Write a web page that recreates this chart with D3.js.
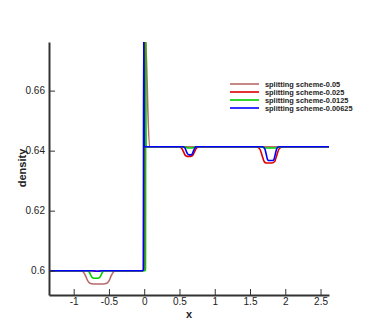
<!DOCTYPE html>
<html>
<head>
<meta charset="utf-8">
<script src="https://cdn.jsdelivr.net/npm/d3@7"></script>
<style>
  body { margin: 0; background: #fff; }
  text { font-family: "Liberation Sans", Arial, sans-serif; fill: #222; }
</style>
</head>
<body>
<div id="chart"></div>
<script>
// series names and colours
const seriesNames = ["splitting scheme-0.05", "splitting scheme-0.025", "splitting scheme-0.0125", "splitting scheme-0.00625"];
const seriesColors = ["#b86a6a", "#dd0000", "#00cc00", "#0000ff"];

// [x, density]
const scheme005 = [[-1.35, 0.6], [-0.90, 0.6], [-0.86, 0.5995], [-0.83, 0.5982], [-0.80, 0.5966], [-0.77, 0.5958], [-0.72, 0.59556],
  [-0.58, 0.59556], [-0.53, 0.5958], [-0.50, 0.5966], [-0.47, 0.5982], [-0.44, 0.5995], [-0.40, 0.6],
  [-0.02, 0.6], [0.0, 0.6005], [0.012, 0.68], [0.075, 0.6413], [2.62, 0.6413]];
const scheme0025 = [[-1.35, 0.6], [-0.75, 0.6], [-0.68, 0.5998], [-0.6, 0.6], [-0.03, 0.6], [-0.01, 0.6003], [0.0, 0.68], [0.02, 0.6413],
  [0.49, 0.6413], [0.53, 0.6408], [0.56, 0.6395], [0.58, 0.6385], [0.61, 0.6381], [0.66, 0.6381], [0.69, 0.6385], [0.71, 0.6395], [0.74, 0.6408], [0.78, 0.6413],
  [1.59, 0.6413], [1.64, 0.6405], [1.67, 0.6385], [1.70, 0.6364], [1.73, 0.6359], [1.81, 0.6359], [1.85, 0.6364], [1.88, 0.6385], [1.91, 0.6405], [1.96, 0.6413],
  [2.62, 0.6413]];
const scheme00125 = [[-1.35, 0.6], [-0.81, 0.6], [-0.78, 0.5996], [-0.76, 0.5986], [-0.74, 0.5978], [-0.71, 0.5975], [-0.66, 0.5975],
  [-0.63, 0.5978], [-0.61, 0.5986], [-0.59, 0.5996], [-0.56, 0.6],
  [0.012, 0.6], [0.018, 0.6005], [0.022, 0.68], [0.026, 0.6413],
  [0.55, 0.6413], [0.62, 0.6409], [0.68, 0.6409], [0.74, 0.6413],
  [1.64, 0.6413], [1.72, 0.6409], [1.86, 0.6409], [1.95, 0.6413], [2.62, 0.6413]];
const scheme000625 = [[-1.35, 0.6], [-0.72, 0.6], [-0.66, 0.5998], [-0.6, 0.6], [-0.02, 0.6], [-0.012, 0.6003], [-0.008, 0.68], [0.0, 0.6413],
  [0.55, 0.6413], [0.58, 0.6408], [0.60, 0.6396], [0.62, 0.6388], [0.64, 0.6386], [0.66, 0.6386], [0.68, 0.6389], [0.70, 0.6400], [0.72, 0.6410], [0.74, 0.6413],
  [1.68, 0.6413], [1.71, 0.6406], [1.73, 0.6388], [1.75, 0.6370], [1.77, 0.6367], [1.82, 0.6367], [1.84, 0.6371], [1.86, 0.6390], [1.88, 0.6407], [1.91, 0.6413],
  [2.62, 0.6413]];
const seriesData = [scheme005, scheme0025, scheme00125, scheme000625];

// ticks
const xMajor = [-1, -0.5, 0, 0.5, 1, 1.5, 2, 2.5];
const xMajorLabels = ["-1", "-0.5", "0", "0.5", "1", "1.5", "2", "2.5"];
const yMajor = [0.6, 0.62, 0.64, 0.66];
const yMajorLabels = ["0.6", "0.62", "0.64", "0.66"];
const xMinor = d3.range(-13, 27).map(d => d / 10).filter(d => Math.abs(d * 2 - Math.round(d * 2)) > 1e-9);
const yMinor = d3.range(119, 136).map(d => d * 0.005).filter(d => Math.abs(d * 50 - Math.round(d * 50)) > 1e-6);

const W = 374, H = 332;
const svg = d3.select("#chart").append("svg")
  .attr("width", W)
  .attr("height", H);

const x = d3.scaleLinear().domain([-1.35, 2.62]).range([49, 329]);
const y = d3.scaleLinear().domain([0.5919, 0.6762]).range([295, 42]);

svg.append("clipPath").attr("id", "plotclip")
  .append("rect")
  .attr("x", 49).attr("y", 42)
  .attr("width", 280).attr("height", 253);

const line = d3.line()
  .x(d => x(d[0]))
  .y(d => y(d[1]))
  .curve(d3.curveMonotoneX);

svg.append("g").attr("clip-path", "url(#plotclip)")
  .selectAll("path")
  .data(seriesData)
  .join("path")
  .attr("d", line)
  .attr("fill", "none")
  .attr("stroke", (d, i) => seriesColors[i])
  .attr("stroke-width", 1.6);

// x axis
const gx = svg.append("g").attr("transform", "translate(0,295)");
gx.call(d3.axisBottom(x).tickValues(xMinor).tickSizeInner(-3).tickSizeOuter(0).tickFormat(""));
gx.call(d3.axisBottom(x).tickValues(xMajor).tickSizeInner(-6).tickSizeOuter(0).tickPadding(3)
  .tickFormat((d, i) => xMajorLabels[i]));
gx.selectAll(".domain").attr("stroke", "#333").attr("stroke-width", 2);
gx.selectAll(".tick line").attr("stroke", "#333");
gx.selectAll("text").attr("font-size", 10).attr("fill", "#222");

// y axis
const gy = svg.append("g").attr("transform", "translate(49,0)");
gy.call(d3.axisLeft(y).tickValues(yMinor).tickSizeInner(-3).tickSizeOuter(0).tickFormat(""));
gy.call(d3.axisLeft(y).tickValues(yMajor).tickSizeInner(-6).tickSizeOuter(0).tickPadding(4)
  .tickFormat((d, i) => yMajorLabels[i]));
gy.selectAll(".domain").attr("stroke", "#333").attr("stroke-width", 2);
gy.selectAll(".tick line").attr("stroke", "#333");
gy.selectAll("text").attr("font-size", 10).attr("fill", "#222");

// axis titles
svg.append("text")
  .attr("x", 189).attr("y", 318)
  .attr("text-anchor", "middle")
  .attr("font-size", 11).attr("font-weight", "bold")
  .text("x");
svg.append("text")
  .attr("transform", "translate(26,168) rotate(-90)")
  .attr("text-anchor", "middle")
  .attr("font-size", 11).attr("font-weight", "bold")
  .text("density");

// legend
const legend = svg.append("g").attr("transform", "translate(230,84)");
const rows = legend.selectAll("g").data(seriesNames).join("g")
  .attr("transform", (d, i) => `translate(0,${i * 8})`);
rows.append("line")
  .attr("x1", 0).attr("x2", 29)
  .attr("stroke", (d, i) => seriesColors[i])
  .attr("stroke-width", 1.6);
rows.append("text")
  .attr("x", 35).attr("y", 2.6)
  .attr("font-size", 7.4).attr("font-weight", "bold")
  .text(d => d);
</script>
</body>
</html>
